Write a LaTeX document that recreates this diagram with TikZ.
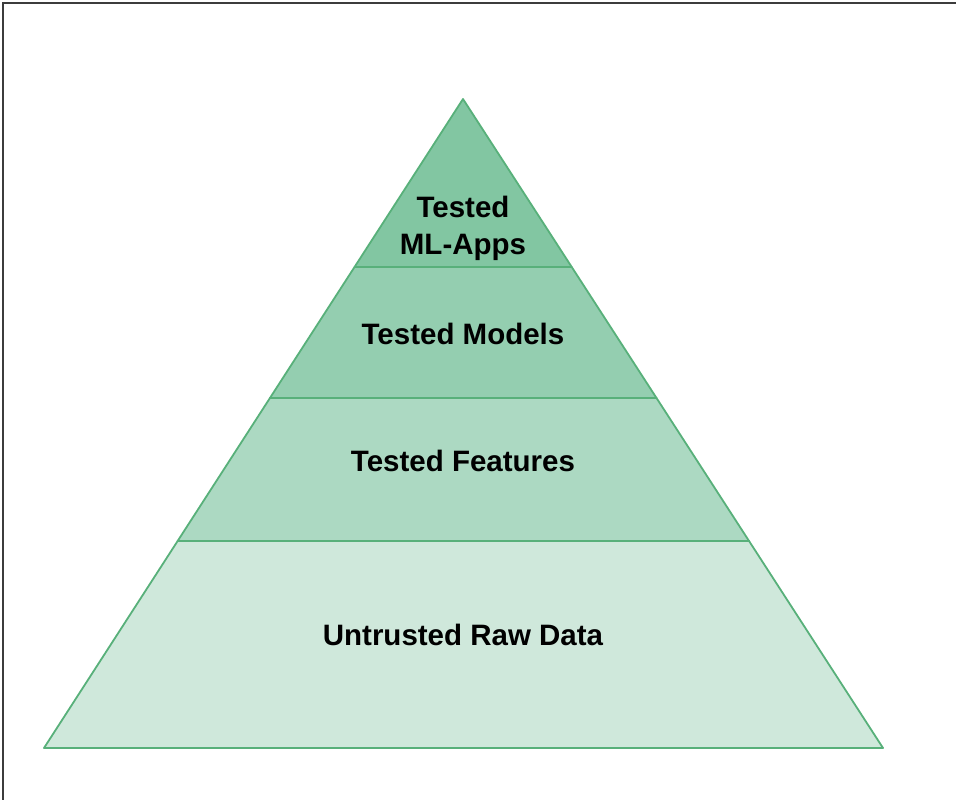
\documentclass[tikz,border=0pt]{standalone}
\usepackage{fontspec}
\setmainfont{Liberation Sans}
\usetikzlibrary{calc}
\definecolor{edgegreen}{RGB}{88,176,122}
\definecolor{bandA}{RGB}{130,198,162}
\definecolor{bandB}{RGB}{148,206,176}
\definecolor{bandC}{RGB}{172,217,194}
\definecolor{bandD}{RGB}{207,232,219}
\definecolor{framegray}{RGB}{60,60,60}
\tikzset{
  band/.style={draw=edgegreen, line width=1.8pt, line join=round},
  layerlabel/.style={font=\bfseries\fontsize{29.5}{37}\selectfont, align=center, text=black, inner sep=0pt}
}
\begin{document}
\begin{tikzpicture}[x=1pt,y=-1pt]
  \useasboundingbox (0,0) rectangle (956,800);
  % outer frame (top and left edges)
  \draw[framegray, line width=1.8pt] (3,800) -- (3,3) -- (956,3);
  % pyramid corners and tier boundaries
  \coordinate (apex) at (463,99);
  \coordinate (bl) at (44,748);
  \coordinate (br) at (883,748);
  \coordinate (l1) at ($(apex)!168/649!(bl)$);
  \coordinate (r1) at ($(apex)!168/649!(br)$);
  \coordinate (l2) at ($(apex)!299/649!(bl)$);
  \coordinate (r2) at ($(apex)!299/649!(br)$);
  \coordinate (l3) at ($(apex)!442/649!(bl)$);
  \coordinate (r3) at ($(apex)!442/649!(br)$);
  % tiers, bottom to top
  \filldraw[band, fill=bandD] (l3) -- (r3) -- (br) -- (bl) -- cycle;
  \filldraw[band, fill=bandC] (l2) -- (r2) -- (r3) -- (l3) -- cycle;
  \filldraw[band, fill=bandB] (l1) -- (r1) -- (r2) -- (l2) -- cycle;
  \filldraw[band, fill=bandA] (apex) -- (r1) -- (l1) -- cycle;
  % tier labels
  \node[layerlabel] (apps) at (463,228) {Tested\\ML-Apps};
  \node[layerlabel] (models) at (463,334) {Tested Models};
  \node[layerlabel] (features) at (463,461) {Tested Features};
  \node[layerlabel] (raw) at (463,635) {Untrusted Raw Data};
\end{tikzpicture}
\end{document}
